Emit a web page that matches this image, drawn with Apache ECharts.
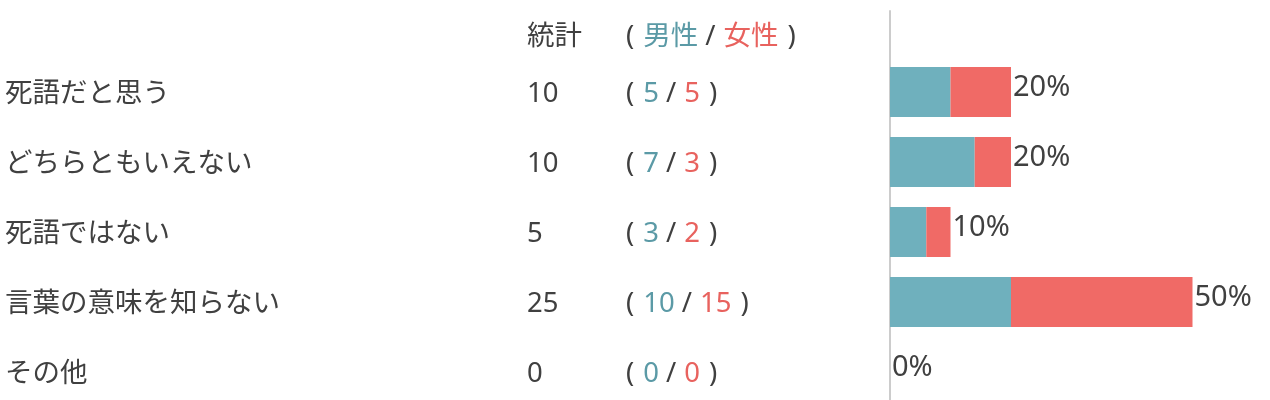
<!DOCTYPE html>
<html><head><meta charset="utf-8">
<script src="https://cdn.jsdelivr.net/npm/echarts@6/dist/echarts.min.js"></script>
<style>html,body{margin:0;padding:0;background:#fff}#c{width:1270px;height:400px}</style>
</head><body><div id="c"></div>
<script>
const categories = ['死語だと思う', 'どちらともいえない', '死語ではない', '言葉の意味を知らない', 'その他'];
const maleValues = [5, 7, 3, 10, 0];
const femaleValues = [5, 3, 2, 15, 0];
const headerTotal = '統計';
const headerMale = '男性';
const headerFemale = '女性';

const totals = maleValues.map((m, i) => m + femaleValues[i]);
const grand = totals.reduce((a, b) => a + b, 0);

const FONT = "'Noto Sans', 'Noto Sans CJK JP', sans-serif";
const FS = 27.5;
const TXT = '#404040';
const MALE_TXT = '#5b9aa6';
const FEMALE_TXT = '#e8625e';
const MALE_BAR = '#6fb0bd';
const FEMALE_BAR = '#f06a66';

const base = { fontSize: FS, color: TXT, fontFamily: FONT };
const rich = {
  a: Object.assign({ width: 522 }, base),
  b: Object.assign({ width: 99 }, base),
  o: Object.assign({ padding: [0, 9, 0, 0] }, base),
  s: Object.assign({ padding: [0, 8, 0, 7] }, base),
  c: Object.assign({ padding: [0, 0, 0, 9] }, base),
  m: Object.assign({}, base, { color: MALE_TXT }),
  f: Object.assign({}, base, { color: FEMALE_TXT })
};
function rowText(label, total, m, f) {
  return `{a|${label}}{b|${total}}{o|(}{m|${m}}{s|/}{f|${f}}{c|)}`;
}

const axisLineStyle = { show: true, lineStyle: { color: '#cccccc', width: 2 } };

const chart = echarts.init(document.getElementById('c'));
chart.setOption({
  animation: false,
  grid: [
    { left: 890, top: 11, height: 47, width: 363, outerBoundsMode: 'none', containLabel: false },
    { left: 890, top: 57, height: 350, width: 363, outerBoundsMode: 'none', containLabel: false }
  ],
  xAxis: [
    { gridIndex: 0, type: 'value', min: 0, max: 30, show: false },
    { gridIndex: 1, type: 'value', min: 0, max: 30, show: false }
  ],
  yAxis: [
    {
      gridIndex: 0, type: 'category', data: ['header'],
      axisLine: axisLineStyle, axisTick: { show: false }, splitLine: { show: false },
      axisLabel: {
        align: 'left', margin: 885, rich: rich, padding: [5, 0, 0, 0],
        formatter: () => rowText('', headerTotal, headerMale, headerFemale)
      }
    },
    {
      gridIndex: 1, type: 'category', data: categories, inverse: true,
      axisLine: axisLineStyle, axisTick: { show: false }, splitLine: { show: false },
      axisLabel: {
        align: 'left', margin: 885, rich: rich, padding: [5, 0, 0, 0],
        formatter: (v, i) => rowText(v, totals[i], maleValues[i], femaleValues[i])
      }
    }
  ],
  series: [
    {
      type: 'bar', name: '男性', xAxisIndex: 1, yAxisIndex: 1, stack: 'g',
      data: maleValues, barWidth: 50, itemStyle: { color: MALE_BAR }
    },
    {
      type: 'bar', name: '女性', xAxisIndex: 1, yAxisIndex: 1, stack: 'g',
      data: femaleValues, barWidth: 50, itemStyle: { color: FEMALE_BAR },
      label: {
        show: true, position: 'right', distance: 2, offset: [0, -4],
        fontSize: 29, color: TXT, fontFamily: FONT,
        formatter: p => Math.round(totals[p.dataIndex] / grand * 100) + '%'
      }
    }
  ]
});
</script></body></html>
